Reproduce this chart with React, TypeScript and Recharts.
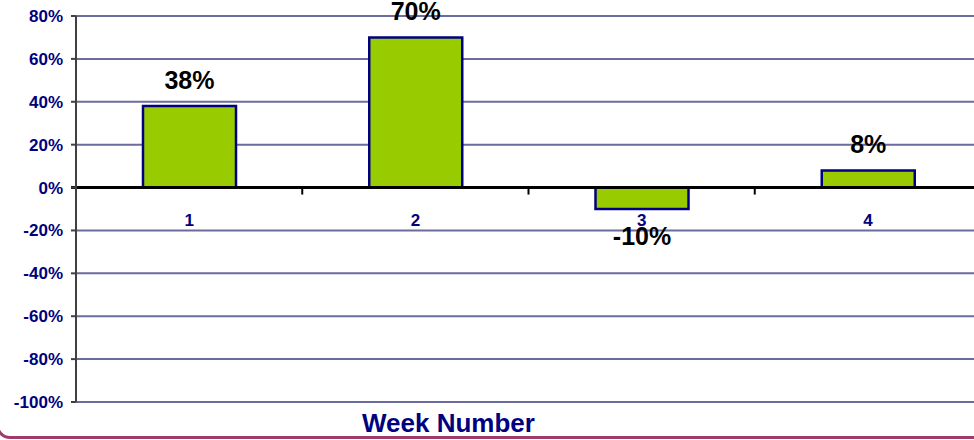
import { BarChart, Bar, XAxis, YAxis, CartesianGrid, ReferenceLine, LabelList } from 'recharts';

const weeks = ['1', '2', '3', '4'];
const change = [38, 70, -10, 8];
const yTicks = [-100, -80, -60, -40, -20, 0, 20, 40, 60, 80];

const data = weeks.map((week, i) => ({ week, change: change[i] }));

const NAVY = '#000080';
const FONT = 'Arial, "Liberation Sans", sans-serif';

function ValueLabel(props: any) {
  const { x, y, width, height, value } = props;
  const top = Math.min(y, y + height);
  const bottom = Math.max(y, y + height);
  const cx = x + width / 2;
  const ty = value >= 0 ? top - 17 : bottom + 36;
  return (
    <text x={cx} y={ty} textAnchor="middle" fontFamily={FONT} fontWeight="bold" fontSize={25} fill="#000">
      {`${value}%`}
    </text>
  );
}

// zero line with category labels and tick marks between categories
function ZeroAxis(props: any) {
  const { x1, y1, x2 } = props;
  const bw = (x2 - x1) / weeks.length;
  return (
    <g>
      {weeks.slice(1).map((_, i) => (
        <line key={'t' + i} x1={x1 + (i + 1) * bw} x2={x1 + (i + 1) * bw} y1={y1} y2={y1 + 7} stroke="#000" strokeWidth={2} />
      ))}
      <line x1={x1 - 5} x2={x2} y1={y1} y2={y1} stroke="#000" strokeWidth={3} />
      {weeks.map((w, i) => (
        <text key={w} x={x1 + (i + 0.5) * bw} y={y1 + 38} textAnchor="middle" fontFamily={FONT} fontWeight="bold" fontSize={17} fill={NAVY}>
          {w}
        </text>
      ))}
    </g>
  );
}

export default function App() {
  return (
    <div style={{ position: 'fixed', left: 0, top: 0, width: 974, height: 440, overflow: 'hidden', background: '#fff' }}>
      <div
        style={{
          position: 'absolute',
          left: -4,
          top: -20,
          width: 1000,
          height: 459,
          boxSizing: 'border-box',
          border: '3px solid #9e3b6b',
          borderRadius: 14,
        }}
      />
      <BarChart width={985} height={440} data={data} margin={{ top: 16, right: 4, left: 0, bottom: 38 }}>
        <CartesianGrid vertical={false} stroke="#6b6b9e" strokeWidth={2} />
        <XAxis dataKey="week" hide />
        <YAxis
          width={76}
          domain={[-100, 80]}
          ticks={yTicks}
          interval={0}
          tickFormatter={(v: number) => `${v}%`}
          tick={{ fontSize: 17, fontWeight: 'bold', fill: NAVY, fontFamily: FONT }}
          tickLine={{ stroke: '#404040', strokeWidth: 2 }}
          tickSize={5}
          tickMargin={8}
          axisLine={{ stroke: '#404040', strokeWidth: 2 }}
        />
        <Bar dataKey="change" fill="#99cc00" stroke={NAVY} strokeWidth={2.5} barSize={93} isAnimationActive={false}>
          <LabelList dataKey="change" content={<ValueLabel />} />
        </Bar>
        <ReferenceLine y={0} shape={<ZeroAxis />} />
      </BarChart>
      <div
        style={{
          position: 'absolute',
          left: 362,
          top: 408,
          fontFamily: FONT,
          fontWeight: 'bold',
          fontSize: 26,
          color: NAVY,
          whiteSpace: 'nowrap',
          lineHeight: '30px',
        }}
      >
        Week Number
      </div>
    </div>
  );
}
